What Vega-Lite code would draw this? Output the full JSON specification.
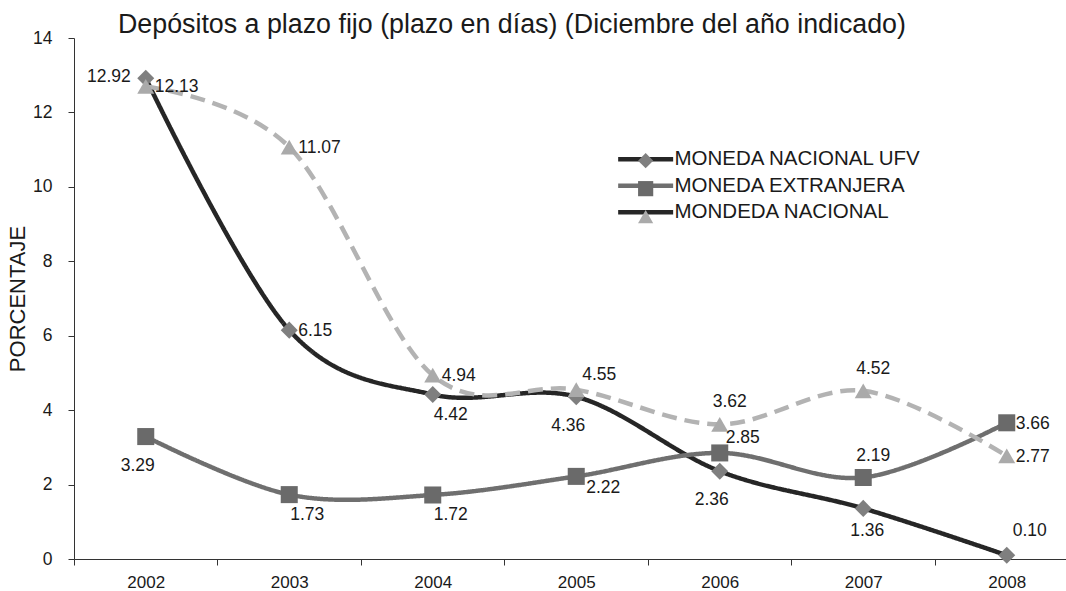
{
  "$schema": "https://vega.github.io/schema/vega-lite/v6.json",
  "width": 992,
  "height": 521,
  "autosize": "none",
  "padding": {"left": 74, "top": 38, "right": 0, "bottom": 32},
  "background": "white",
  "config": {
    "view": {"stroke": null},
    "font": "Liberation Sans",
    "axis": {"labelFont": "Liberation Sans", "titleFont": "Liberation Sans"},
    "legend": {"labelFont": "Liberation Sans"}
  },
  "title": {
    "text": "Depósitos a plazo fijo (plazo en días) (Diciembre del año indicado)",
    "anchor": "start",
    "frame": "group",
    "dx": 44,
    "dy": 14,
    "fontSize": 26.8,
    "fontWeight": "normal",
    "font": "Liberation Sans",
    "color": "#1a1a1a",
    "offset": 4
  },
  "data": {
    "values": [
      {"series": "MONEDA NACIONAL UFV", "year": 2002, "value": 12.92, "label": "12.92"},
      {"series": "MONEDA NACIONAL UFV", "year": 2003, "value": 6.15, "label": "6.15"},
      {"series": "MONEDA NACIONAL UFV", "year": 2004, "value": 4.42, "label": "4.42"},
      {"series": "MONEDA NACIONAL UFV", "year": 2005, "value": 4.36, "label": "4.36"},
      {"series": "MONEDA NACIONAL UFV", "year": 2006, "value": 2.36, "label": "2.36"},
      {"series": "MONEDA NACIONAL UFV", "year": 2007, "value": 1.36, "label": "1.36"},
      {"series": "MONEDA NACIONAL UFV", "year": 2008, "value": 0.10, "label": "0.10"},
      {"series": "MONEDA EXTRANJERA", "year": 2002, "value": 3.29, "label": "3.29"},
      {"series": "MONEDA EXTRANJERA", "year": 2003, "value": 1.73, "label": "1.73"},
      {"series": "MONEDA EXTRANJERA", "year": 2004, "value": 1.72, "label": "1.72"},
      {"series": "MONEDA EXTRANJERA", "year": 2005, "value": 2.22, "label": "2.22"},
      {"series": "MONEDA EXTRANJERA", "year": 2006, "value": 2.85, "label": "2.85"},
      {"series": "MONEDA EXTRANJERA", "year": 2007, "value": 2.19, "label": "2.19"},
      {"series": "MONEDA EXTRANJERA", "year": 2008, "value": 3.66, "label": "3.66"},
      {"series": "MONDEDA NACIONAL", "year": 2002, "value": 12.7, "label": "12.13"},
      {"series": "MONDEDA NACIONAL", "year": 2003, "value": 11.07, "label": "11.07"},
      {"series": "MONDEDA NACIONAL", "year": 2004, "value": 4.94, "label": "4.94"},
      {"series": "MONDEDA NACIONAL", "year": 2005, "value": 4.55, "label": "4.55"},
      {"series": "MONDEDA NACIONAL", "year": 2006, "value": 3.62, "label": "3.62"},
      {"series": "MONDEDA NACIONAL", "year": 2007, "value": 4.52, "label": "4.52"},
      {"series": "MONDEDA NACIONAL", "year": 2008, "value": 2.77, "label": "2.77"}
    ]
  },
  "encoding": {
    "x": {
      "field": "year",
      "type": "quantitative",
      "scale": {"domain": [2001.5, 2008.413], "nice": false, "zero": false},
      "axis": {
        "title": null,
        "values": [2001.5, 2002, 2002.5, 2003, 2003.5, 2004, 2004.5, 2005, 2005.5, 2006, 2006.5, 2007, 2007.5, 2008],
        "labelExpr": "datum.value % 1 === 0 ? toString(datum.value) : ''",
        "tickOpacity": {"condition": {"test": "datum.value % 1 === 0", "value": 0}, "value": 1},
        "tickSize": 6,
        "tickColor": "#333333",
        "domainColor": "#333333",
        "labelFontSize": 17,
        "labelColor": "#1a1a1a",
        "labelPadding": 9,
        "labelOverlap": false,
        "labelFlush": false,
        "grid": false
      }
    },
    "y": {
      "field": "value",
      "type": "quantitative",
      "scale": {"domain": [0, 14], "nice": false},
      "axis": {
        "title": "PORCENTAJE",
        "values": [0, 2, 4, 6, 8, 10, 12, 14],
        "tickSize": 6,
        "tickColor": "#333333",
        "domainColor": "#333333",
        "labelFontSize": 17.5,
        "labelColor": "#1a1a1a",
        "labelPadding": 16,
        "titleFontSize": 22,
        "titleFontWeight": "normal",
        "titleColor": "#1a1a1a",
        "titlePadding": 3,
        "grid": false
      }
    }
  },
  "resolve": {"scale": {"stroke": "independent", "shape": "independent", "fill": "independent"}},
  "layer": [
    {
      "mark": {"type": "line", "interpolate": "cardinal", "strokeWidth": 4.5},
      "encoding": {
        "stroke": {
          "field": "series",
          "type": "nominal",
          "scale": {"domain": ["MONEDA NACIONAL UFV", "MONEDA EXTRANJERA", "MONDEDA NACIONAL"], "range": ["#262626", "#6f6f6f", "#b3b3b3"]},
          "legend": null
        },
        "strokeDash": {
          "field": "series",
          "type": "nominal",
          "scale": {"domain": ["MONEDA NACIONAL UFV", "MONEDA EXTRANJERA", "MONDEDA NACIONAL"], "range": [[1, 0], [1, 0], [15, 8]]},
          "legend": null
        }
      }
    },
    {
      "mark": {"type": "point", "filled": true, "opacity": 1, "strokeWidth": 0, "size": 290},
      "encoding": {
        "shape": {
          "field": "series",
          "type": "nominal",
          "scale": {"domain": ["MONEDA NACIONAL UFV", "MONEDA EXTRANJERA", "MONDEDA NACIONAL"], "range": ["diamond", "square", "triangle-up"]},
          "legend": null
        },
        "fill": {
          "field": "series",
          "type": "nominal",
          "scale": {"domain": ["MONEDA NACIONAL UFV", "MONEDA EXTRANJERA", "MONDEDA NACIONAL"], "range": ["#7f7f7f", "#6a6a6a", "#aaaaaa"]},
          "legend": null
        }
      }
    },
    {
      "transform": [{"filter": "false"}],
      "mark": {"type": "line", "strokeWidth": 4.5},
      "encoding": {
        "stroke": {
          "field": "series",
          "type": "nominal",
          "scale": {"domain": ["MONEDA NACIONAL UFV", "MONEDA EXTRANJERA", "MONDEDA NACIONAL"], "range": ["#262626", "#6f6f6f", "#262626"]},
          "legend": {
            "orient": "none",
            "legendX": 561.4,
            "legendY": 111,
            "title": null,
            "padding": 0,
            "symbolType": "M-4,0H4",
            "symbolSize": 189,
            "symbolStrokeWidth": 4.5,
            "labelFontSize": 20.5,
            "labelColor": "#1a1a1a",
            "labelLimit": 500,
            "labelOffset": 18.6,
            "rowPadding": 5.5
          }
        }
      }
    },
    {
      "transform": [{"filter": "false"}],
      "mark": {"type": "point", "filled": true, "opacity": 1, "strokeWidth": 0},
      "encoding": {
        "shape": {
          "field": "series",
          "type": "nominal",
          "scale": {"domain": ["MONEDA NACIONAL UFV", "MONEDA EXTRANJERA", "MONDEDA NACIONAL"], "range": ["diamond", "square", "triangle-up"]},
          "legend": {
            "orient": "none",
            "legendX": 561.4,
            "legendY": 112.4,
            "title": null,
            "padding": 0,
            "symbolSize": 230,
            "symbolStrokeWidth": 0,
            "labelFontSize": 20.5,
            "labelExpr": "' '",
            "labelOffset": 1,
            "rowPadding": 7
          }
        },
        "fill": {
          "field": "series",
          "type": "nominal",
          "scale": {"domain": ["MONEDA NACIONAL UFV", "MONEDA EXTRANJERA", "MONDEDA NACIONAL"], "range": ["#7f7f7f", "#6a6a6a", "#aaaaaa"]},
          "legend": {
            "orient": "none",
            "legendX": 561.4,
            "legendY": 112.4,
            "title": null,
            "padding": 0,
            "symbolSize": 230,
            "symbolStrokeWidth": 0,
            "labelFontSize": 20.5,
            "labelExpr": "' '",
            "labelOffset": 1,
            "rowPadding": 7
          }
        }
      }
    },
    {
      "transform": [{"filter": "indexof(['MONEDA NACIONAL UFV|2003','MONDEDA NACIONAL|2004','MONDEDA NACIONAL|2002','MONDEDA NACIONAL|2003','MONEDA EXTRANJERA|2008','MONDEDA NACIONAL|2008'], datum.series + '|' + datum.year) >= 0"}],
      "mark": {"type": "text", "align": "left", "baseline": "middle", "dx": 9, "dy": 1, "fontSize": 17.5, "color": "#1a1a1a"},
      "encoding": {"text": {"field": "label", "type": "nominal"}}
    },
    {
      "transform": [{"filter": "indexof(['MONEDA NACIONAL UFV|2002'], datum.series + '|' + datum.year) >= 0"}],
      "mark": {"type": "text", "align": "right", "baseline": "middle", "dx": -15, "dy": -1, "fontSize": 17.5, "color": "#1a1a1a"},
      "encoding": {"text": {"field": "label", "type": "nominal"}}
    },
    {
      "transform": [{"filter": "indexof(['MONEDA NACIONAL UFV|2005','MONEDA NACIONAL UFV|2006','MONEDA EXTRANJERA|2002'], datum.series + '|' + datum.year) >= 0"}],
      "mark": {"type": "text", "align": "center", "baseline": "middle", "dx": -8, "dy": 29, "fontSize": 17.5, "color": "#1a1a1a"},
      "encoding": {"text": {"field": "label", "type": "nominal"}}
    },
    {
      "transform": [{"filter": "indexof(['MONEDA NACIONAL UFV|2004','MONEDA EXTRANJERA|2003','MONEDA EXTRANJERA|2004'], datum.series + '|' + datum.year) >= 0"}],
      "mark": {"type": "text", "align": "center", "baseline": "middle", "dx": 18, "dy": 20, "fontSize": 17.5, "color": "#1a1a1a"},
      "encoding": {"text": {"field": "label", "type": "nominal"}}
    },
    {
      "transform": [{"filter": "indexof(['MONEDA NACIONAL UFV|2007'], datum.series + '|' + datum.year) >= 0"}],
      "mark": {"type": "text", "align": "center", "baseline": "middle", "dx": 4, "dy": 23, "fontSize": 17.5, "color": "#1a1a1a"},
      "encoding": {"text": {"field": "label", "type": "nominal"}}
    },
    {
      "transform": [{"filter": "indexof(['MONDEDA NACIONAL|2005','MONEDA EXTRANJERA|2006'], datum.series + '|' + datum.year) >= 0"}],
      "mark": {"type": "text", "align": "center", "baseline": "middle", "dx": 23, "dy": -15, "fontSize": 17.5, "color": "#1a1a1a"},
      "encoding": {"text": {"field": "label", "type": "nominal"}}
    },
    {
      "transform": [{"filter": "indexof(['MONEDA NACIONAL UFV|2008'], datum.series + '|' + datum.year) >= 0"}],
      "mark": {"type": "text", "align": "center", "baseline": "middle", "dx": 23, "dy": -24, "fontSize": 17.5, "color": "#1a1a1a"},
      "encoding": {"text": {"field": "label", "type": "nominal"}}
    },
    {
      "transform": [{"filter": "indexof(['MONDEDA NACIONAL|2006','MONDEDA NACIONAL|2007','MONEDA EXTRANJERA|2007'], datum.series + '|' + datum.year) >= 0"}],
      "mark": {"type": "text", "align": "center", "baseline": "middle", "dx": 10, "dy": -22, "fontSize": 17.5, "color": "#1a1a1a"},
      "encoding": {"text": {"field": "label", "type": "nominal"}}
    },
    {
      "transform": [{"filter": "indexof(['MONEDA EXTRANJERA|2005'], datum.series + '|' + datum.year) >= 0"}],
      "mark": {"type": "text", "align": "left", "baseline": "middle", "dx": 10, "dy": 12, "fontSize": 17.5, "color": "#1a1a1a"},
      "encoding": {"text": {"field": "label", "type": "nominal"}}
    }
  ]
}
